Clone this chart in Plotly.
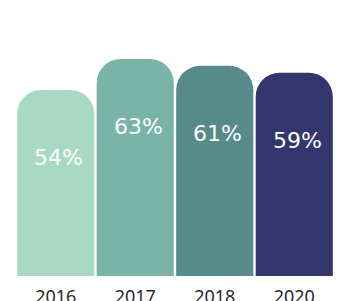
import plotly.graph_objects as go

years = ["2016", "2017", "2018", "2020"]
values = [54, 63, 61, 59]
labels = ["54%", "63%", "61%", "59%"]
colors = ["#a7d9c4", "#7ab4a9", "#568b89", "#33356d"]

fig = go.Figure()
fig.add_trace(go.Bar(
    x=years, y=values,
    marker=dict(color=colors, cornerradius=24, line=dict(width=0)),
    hoverinfo="skip",
))

for i, (v, t) in enumerate(zip(values, labels)):
    fig.add_annotation(
        x=i, y=v, text=t, showarrow=False, yshift=-68, xshift=3,
        font=dict(family="DejaVu Sans", size=22, color="white"),
    )

fig.update_layout(
    width=337, height=301,
    margin=dict(l=16, r=3, t=0, b=25),
    paper_bgcolor="white", plot_bgcolor="white",
    bargap=0.03, showlegend=False,
    xaxis=dict(type="category", range=[-0.5, len(years) - 0.5], automargin=False,
               showgrid=False, showline=False, zeroline=False, ticks="",
               tickfont=dict(family="Noto Sans", size=18, color="#2a2a2a"),
               ticklabelstandoff=8),
    yaxis=dict(range=[0, 80.1], visible=False, showgrid=False, zeroline=False,
               automargin=False),
)

fig.write_html("out.html", config={"displayModeBar": False},
               post_script="document.body.style.margin='0';")
